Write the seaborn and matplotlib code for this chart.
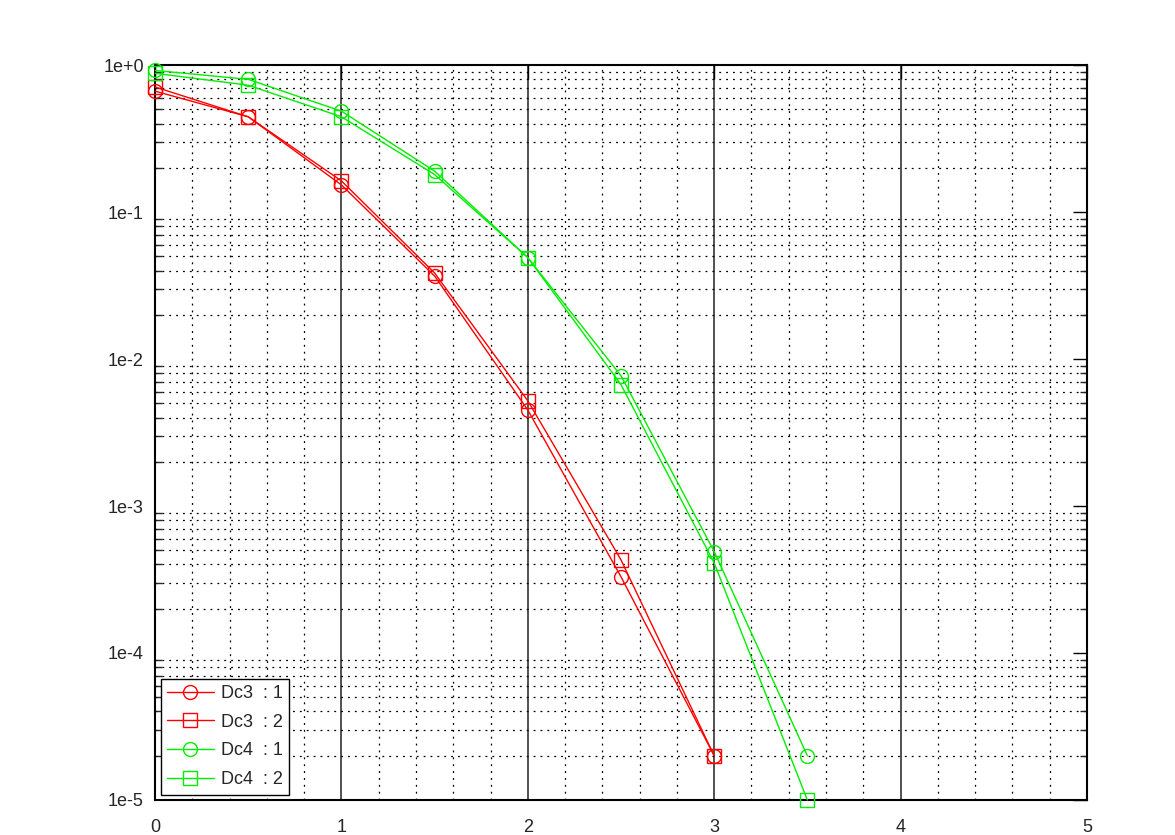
import matplotlib
matplotlib.use("Agg")
import matplotlib.pyplot as plt
import seaborn as sns
import pandas as pd
from matplotlib.ticker import MultipleLocator, LogLocator, NullFormatter, FixedLocator

# values
snr = [0.0, 0.5, 1.0, 1.5, 2.0, 2.5, 3.0]
snr_dc4 = [0.0, 0.5, 1.0, 1.5, 2.0, 2.5, 3.0, 3.5]
dc3_1 = [0.665, 0.445, 0.153, 0.0367, 0.0045, 3.3e-4, 2e-5]
dc3_2 = [0.71, 0.445, 0.163, 0.0385, 0.0052, 4.3e-4, 2e-5]
dc4_1 = [0.92, 0.80, 0.486, 0.19, 0.049, 0.0077, 4.9e-4, 2e-5]
dc4_2 = [0.88, 0.73, 0.445, 0.18, 0.049, 0.0067, 4.1e-4, 1e-5]
labels = ["Dc3  : 1", "Dc3  : 2", "Dc4  : 1", "Dc4  : 2"]
ytick_labels = ["1e-5", "1e-4", "1e-3", "1e-2", "1e-1", "1e+0"]

sns.set_style("white")
plt.rcParams["font.family"] = ["Liberation Sans", "DejaVu Sans"]

series = [
    (snr, dc3_1, labels[0], "#ff0000", "o"),
    (snr, dc3_2, labels[1], "#ff0000", "s"),
    (snr_dc4, dc4_1, labels[2], "#00ee00", "o"),
    (snr_dc4, dc4_2, labels[3], "#00ee00", "s"),
]

fig = plt.figure(figsize=(11.75, 8.35), dpi=100)
ax = fig.add_axes([0.132, 0.042, 0.793, 0.880])

for xs, ys, lab, col, mk in series:
    df = pd.DataFrame({"x": xs, "y": ys})
    sns.lineplot(
        x="x",
        y="y",
        data=df,
        ax=ax,
        color=col,
        marker=mk,
        markersize=10,
        markerfacecolor="none",
        markeredgecolor=col,
        markeredgewidth=1.0,
        linewidth=1.0,
        label=lab,
        clip_on=False,
        zorder=3,
    )

ax.set_yscale("log")
ax.set_xlim(0, 5)
ax.set_ylim(1e-5, 1)
ax.set_xlabel("")
ax.set_ylabel("")

# ticks
ax.xaxis.set_major_locator(MultipleLocator(1))
ax.xaxis.set_minor_locator(MultipleLocator(0.2))
ax.yaxis.set_major_locator(FixedLocator([1e-5, 1e-4, 1e-3, 1e-2, 1e-1, 1]))
ax.set_yticklabels(ytick_labels)
ax.yaxis.set_minor_locator(LogLocator(base=10, subs=range(2, 10), numticks=20))
ax.yaxis.set_minor_formatter(NullFormatter())
ax.tick_params(axis="both", which="major", direction="in", labelsize=13,
               top=True, right=True, length=10, width=1, color="black")
ax.tick_params(axis="y", which="major", pad=8)
ax.tick_params(axis="x", which="major", pad=14)
ax.tick_params(axis="y", which="minor", direction="in", left=True, right=True,
               length=5, width=1)
ax.tick_params(axis="x", which="minor", length=0)

# grid: solid at integer x, dotted on minor lines
ax.grid(False)
for v in [1, 2, 3, 4]:
    ax.axvline(v, color="#333333", linewidth=1.2, zorder=0.5)
ax.grid(True, which="minor", axis="x", color="black",
        linestyle=(0, (1.5, 4)), linewidth=0.9)
ax.grid(True, which="minor", axis="y", color="black",
        linestyle=(0, (1.5, 4)), linewidth=0.9)
ax.set_axisbelow(True)

for sp in ax.spines.values():
    sp.set_visible(True)
    sp.set_color("black")
    sp.set_linewidth(1.5)

leg = ax.legend(loc="lower left", fontsize=13, frameon=True, fancybox=False,
                edgecolor="black", framealpha=1, borderaxespad=0.3,
                handlelength=2.6, handletextpad=0.4, labelspacing=0.65,
                borderpad=0.35)
leg.get_frame().set_linewidth(1.0)

fig.savefig("out.png", dpi=100)
